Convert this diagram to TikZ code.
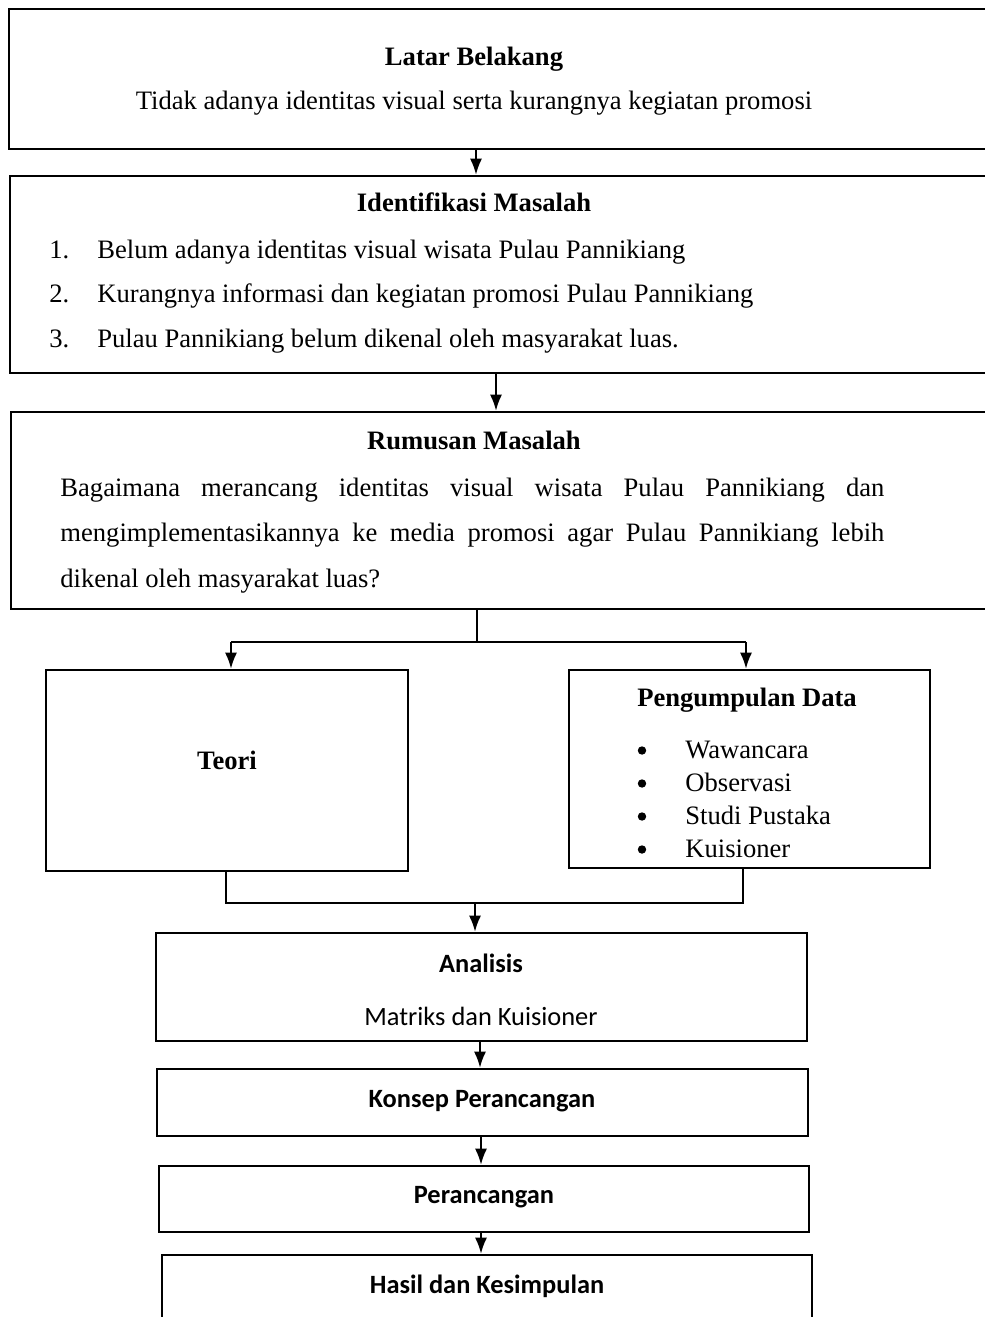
\documentclass[tikz,border=0pt]{standalone}
\usepackage{fontspec}
\setmainfont{Liberation Serif}
\newfontfamily\calfont{Carlito}
\usetikzlibrary{arrows.meta,fit}
\begin{document}
\begin{tikzpicture}[x=0.5pt,y=-0.5pt,
  box/.style={draw, line width=1.3pt, inner sep=0pt},
  arr/.style={line width=0.9pt, -{Latex[length=8pt,width=6pt]}},
  conn/.style={line width=0.9pt},
  dot/.style={circle, fill, inner sep=0pt, minimum size=4.2pt},
  tnr/.style={font=\fontsize{13.3}{16}\selectfont, inner sep=0pt, anchor=base},
  tnrb/.style={font=\fontsize{13.3}{16}\selectfont\bfseries, inner sep=0pt, anchor=base},
  cal/.style={font=\calfont\fontsize{13.2}{16}\selectfont, inner sep=0pt, anchor=base},
  calb/.style={font=\calfont\fontsize{13.2}{16}\selectfont\bfseries, inner sep=0pt, anchor=base}]
\useasboundingbox (0,0) rectangle (985,1317);
\clip (0,0) rectangle (985,1317);
% boxes
\node[box, fit={(9,9) (1010,149)}] (b1) {};
\node[box, fit={(10,176) (1010,373)}] (b2) {};
\node[box, fit={(11,412) (1010,609)}] (b3) {};
\node[box, fit={(46,670) (408,871)}] (teori) {};
\node[box, fit={(569,670) (930,868)}] (peng) {};
\node[box, fit={(156,933) (807,1041)}] (ana) {};
\node[box, fit={(157,1069) (808,1136)}] (kon) {};
\node[box, fit={(159,1166) (809,1232)}] (per) {};
\node[box, fit={(162,1255) (812,1345)}] (has) {};
% texts
\node[tnrb] (t1) at (474,65) {Latar Belakang};
\node[tnr] (t1b) at (474,109) {Tidak adanya identitas visual serta kurangnya kegiatan promosi};
\node[tnrb] (t2) at (474,211) {Identifikasi Masalah};
\node[tnr, anchor=base west] (n1) at (49,258) {1.};
\node[tnr, anchor=base west] (i1) at (97,258) {Belum adanya identitas visual wisata Pulau Pannikiang};
\node[tnr, anchor=base west] (n2) at (49,302) {2.};
\node[tnr, anchor=base west] (i2) at (97,302) {Kurangnya informasi dan kegiatan promosi Pulau Pannikiang};
\node[tnr, anchor=base west] (n3) at (49,347) {3.};
\node[tnr, anchor=base west] (i3) at (97,347) {Pulau Pannikiang belum dikenal oleh masyarakat luas.};
\node[tnrb] (t3) at (474,449) {Rumusan Masalah};
\node[tnr, anchor=base west] (r1) at (60,496) {\makebox[412pt][s]{Bagaimana merancang identitas visual wisata Pulau Pannikiang dan}};
\node[tnr, anchor=base west] (r2) at (60,541) {\makebox[412pt][s]{mengimplementasikannya ke media promosi agar Pulau Pannikiang lebih}};
\node[tnr, anchor=base west] (r3) at (60,587) {dikenal oleh masyarakat luas?};
\node[tnrb] (tt) at (227,769) {Teori};
\node[tnrb] (tp) at (747,706) {Pengumpulan Data};
\foreach \y/\t/\n in {758/Wawancara/1,791/Observasi/2,824/Studi Pustaka/3,857/Kuisioner/4}{
  \node[dot] (bu\n) at (642,\y-7.5) {};
  \node[tnr, anchor=base west] (bt\n) at (685,\y) {\t};
}
\node[calb] (ta) at (481,972) {Analisis};
\node[cal] (tm) at (481,1025) {Matriks dan Kuisioner};
\node[calb] (tk) at (482,1107) {Konsep Perancangan};
\node[calb] (tpr) at (484,1203) {Perancangan};
\node[calb] (th) at (487,1293) {Hasil dan Kesimpulan};
% connector coordinates
\coordinate (x1) at (476,0);
\coordinate (x2) at (496,0);
\coordinate (s1) at (477,642);
\coordinate (sl) at (231,642);
\coordinate (sr) at (746,642);
\coordinate (ml) at (226,903);
\coordinate (mr) at (743,903);
\coordinate (mm) at (475,903);
\coordinate (x3) at (480,0);
\coordinate (x4) at (481,0);
% connectors
\draw[arr] (b1.south -| x1) -- (b2.north -| x1);
\draw[arr] (b2.south -| x2) -- (b3.north -| x2);
\draw[conn] (b3.south -| s1) -- (s1);
\draw[conn] (sl) -- (sr);
\draw[arr] (sl) -- (sl |- teori.north);
\draw[arr] (sr) -- (sr |- peng.north);
\draw[conn] (teori.south -| ml) -- (ml) -- (mr) -- (peng.south -| mr);
\draw[arr] (mm) -- (mm |- ana.north);
\draw[arr] (ana.south -| x3) -- (kon.north -| x3);
\draw[arr] (kon.south -| x4) -- (per.north -| x4);
\draw[arr] (per.south -| x4) -- (has.north -| x4);
\end{tikzpicture}
\end{document}
